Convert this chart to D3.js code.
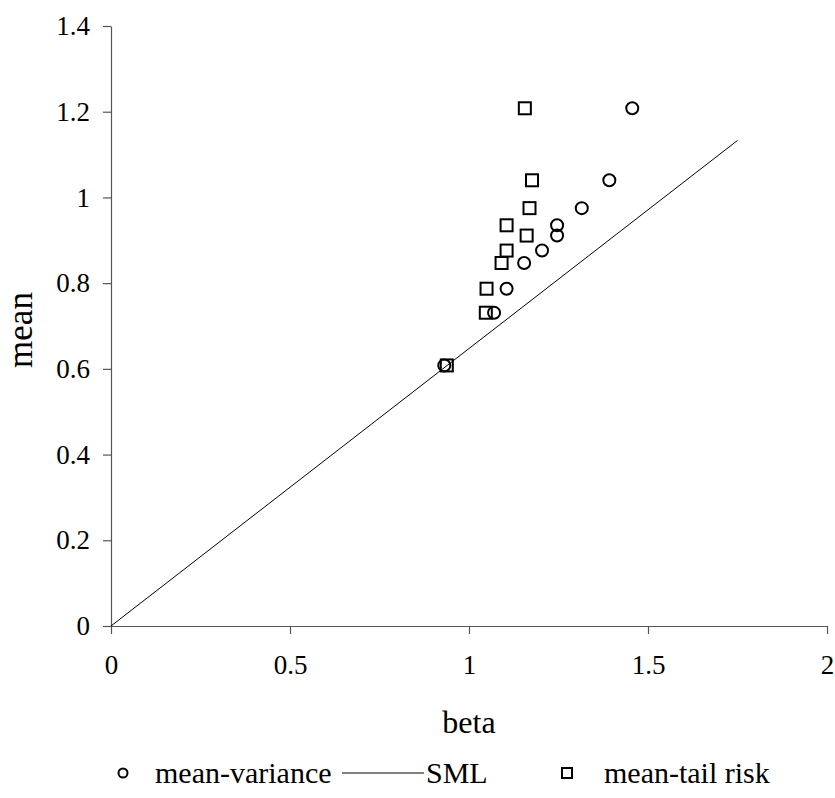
<!DOCTYPE html>
<html>
<head>
<meta charset="utf-8">
<script src="https://cdn.jsdelivr.net/npm/d3@7"></script>
<style>
  body { margin: 0; background: #fff; }
  svg text { font-family: "Liberation Serif", "DejaVu Serif", serif !important; fill: #000; }
</style>
</head>
<body>
<svg id="chart" width="835" height="798"></svg>
<script>
// mean-variance portfolios (beta, mean)
var mvBeta = [0.931, 1.070, 1.105, 1.154, 1.204, 1.246, 1.246, 1.315, 1.392, 1.456];
var mvMean = [0.608, 0.731, 0.787, 0.847, 0.876, 0.911, 0.935, 0.975, 1.040, 1.208];

// mean-tail risk portfolios (beta, mean)
var mtBeta = [0.938, 1.047, 1.049, 1.091, 1.105, 1.161, 1.105, 1.169, 1.176, 1.156];
var mtMean = [0.608, 0.731, 0.787, 0.847, 0.876, 0.911, 0.935, 0.975, 1.040, 1.208];

// security market line
var smlBeta = [0, 1.75];
var smlMean = [0, 1.133];

var xTicks = [0, 0.5, 1, 1.5, 2];
var yTicks = [0, 0.2, 0.4, 0.6, 0.8, 1, 1.2, 1.4];

var svg = d3.select("#chart");
var plotL = 111, plotR = 827, plotT = 26, plotB = 626;
var serif = "'Liberation Serif', 'DejaVu Serif', serif";

var x = d3.scaleLinear().domain([0, 2]).range([plotL, plotR]);
var y = d3.scaleLinear().domain([0, 1.4]).range([plotB, plotT]);

var fmt = function (d) { return String(d); };

var xAxis = svg.append("g")
    .attr("transform", "translate(0," + plotB + ")")
    .call(d3.axisBottom(x).tickValues(xTicks).tickFormat(fmt).tickSize(8).tickSizeOuter(0).tickPadding(21));
var yAxis = svg.append("g")
    .attr("transform", "translate(" + plotL + ",0)")
    .call(d3.axisLeft(y).tickValues(yTicks).tickFormat(fmt).tickSize(8).tickSizeOuter(0).tickPadding(13));

[xAxis, yAxis].forEach(function (g) {
    g.attr("font-family", serif).attr("font-size", 27);
    g.select(".domain").attr("stroke", "#555").attr("stroke-width", 1.2);
    g.selectAll(".tick line").attr("stroke", "#555").attr("stroke-width", 1.2);
    g.selectAll(".tick text").attr("fill", "#000");
});

svg.append("text")
    .attr("x", 469).attr("y", 733)
    .attr("text-anchor", "middle")
    .attr("font-family", serif)
    .attr("font-size", 32)
    .text("beta");

svg.append("text")
    .attr("transform", "translate(32,330) rotate(-90)")
    .attr("text-anchor", "middle")
    .attr("font-family", serif)
    .attr("font-size", 35)
    .text("mean");

// SML
var line = d3.line().x(function (d) { return x(d[0]); }).y(function (d) { return y(d[1]); });
svg.append("path")
    .datum(d3.zip(smlBeta, smlMean))
    .attr("d", line)
    .attr("fill", "none")
    .attr("stroke", "#000")
    .attr("stroke-width", 1);

var sq = 12;
svg.selectAll("rect.mt")
    .data(d3.zip(mtBeta, mtMean))
    .enter().append("rect")
    .attr("class", "mt")
    .attr("x", function (d) { return x(d[0]) - sq / 2; })
    .attr("y", function (d) { return y(d[1]) - sq / 2; })
    .attr("width", sq).attr("height", sq)
    .attr("fill", "none").attr("stroke", "#000").attr("stroke-width", 2);

svg.selectAll("circle.mv")
    .data(d3.zip(mvBeta, mvMean))
    .enter().append("circle")
    .attr("class", "mv")
    .attr("cx", function (d) { return x(d[0]); })
    .attr("cy", function (d) { return y(d[1]); })
    .attr("r", 6)
    .attr("fill", "none").attr("stroke", "#000").attr("stroke-width", 2);

// legend
var ly = 773;
var legend = svg.append("g").attr("font-family", serif).attr("font-size", 30);
legend.append("circle").attr("cx", 123).attr("cy", ly).attr("r", 4.5)
    .attr("fill", "none").attr("stroke", "#000").attr("stroke-width", 2);
legend.append("text").attr("x", 155).attr("y", ly).attr("dy", "0.32em").text("mean-variance");
legend.append("line").attr("x1", 342).attr("x2", 424).attr("y1", ly).attr("y2", ly)
    .attr("stroke", "#000").attr("stroke-width", 1);
legend.append("text").attr("x", 426).attr("y", ly).attr("dy", "0.32em").text("SML");
legend.append("rect").attr("x", 562).attr("y", ly - 5).attr("width", 10).attr("height", 10)
    .attr("fill", "none").attr("stroke", "#000").attr("stroke-width", 2);
legend.append("text").attr("x", 604).attr("y", ly).attr("dy", "0.32em").text("mean-tail risk");
</script>
</body>
</html>
